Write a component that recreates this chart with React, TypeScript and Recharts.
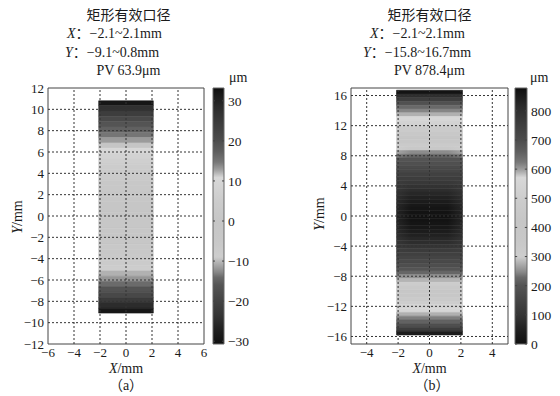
import React from "react";
import { ComposedChart, XAxis, YAxis, ReferenceArea, ReferenceLine } from "recharts";

const SERIF = '"Liberation Serif", "Times New Roman", "Noto Sans CJK SC", serif';

// grey colour map (fraction of the range -> grey level)
const cmapPos = [0, 0.05, 0.11, 0.17, 0.23, 0.26, 0.28, 0.31, 0.34, 0.4, 0.48, 0.56, 0.62, 0.65, 0.68, 0.71, 0.75, 0.8, 0.87, 0.93, 1];
const cmapGray = [16, 30, 52, 68, 85, 105, 135, 170, 205, 200, 198, 204, 212, 216, 160, 120, 95, 75, 58, 42, 14];

// (a)
const aXTicks = [-6, -4, -2, 0, 2, 4, 6];
const aYTicks = [-12, -10, -8, -6, -4, -2, 0, 2, 4, 6, 8, 10, 12];
const aBarTicks = [-30, -20, -10, 0, 10, 20, 30];
const aRange = [-30.7, 33.2];
const aApX = [-2.1, 2.1];
const aApY = [-9.1, 10.8];
const aRowY = [10.6, 10.1, 9.6, 9.1, 8.6, 8.1, 7.6, 7.1, 6.6, 6.1, 5.6, 5.1, 4.6, 4.1, 3.6, 3.1, 2.6, 2.1, 1.6, 1.1,
  0.6, 0.1, -0.4, -0.9, -1.4, -1.9, -2.4, -2.9, -3.4, -3.9, -4.4, -4.9, -5.4, -5.9, -6.4, -6.9, -7.4, -7.9, -8.4, -8.9];
const aRowVal = [32, 27, 24, 21, 19, 17, 15, 13, 11.5, 10.3, 8, 6.5, 5, 4, 3, 2, 1.5, 1, 0.5, 0,
  -0.5, -1, -1.5, -2, -2.5, -3, -3.5, -4, -5, -6, -7.5, -9, -10.5, -12, -14, -16.5, -19, -22, -25, -29];

// (b)
const bXTicks = [-4, -2, 0, 2, 4];
const bYTicks = [-16, -12, -8, -4, 0, 4, 8, 12, 16];
const bBarTicks = [0, 100, 200, 300, 400, 500, 600, 700, 800];
const bRange = [0, 878.4];
const bApX = [-2.1, 2.1];
const bApY = [-15.8, 16.7];
const bRowY = [16.45, 15.95, 15.45, 14.95, 14.45, 13.95, 13.45, 12.95, 12.45, 11.95, 11.45, 10.95, 10.45, 9.95, 9.45,
  8.95, 8.45, 7.95, 7.45, 6.95, 6.45, 5.95, 5.45, 4.95, 4.45, 3.95, 3.45, 2.95, 2.45, 1.95, 1.45, 0.95, 0.45,
  -0.05, -0.55, -1.05, -1.55, -2.05, -2.55, -3.05, -3.55, -4.05, -4.55, -5.05, -5.55, -6.05, -6.55, -7.05, -7.55,
  -8.05, -8.55, -9.05, -9.55, -10.05, -10.55, -11.05, -11.55, -12.05, -12.55, -13.05, -13.55, -14.05, -14.55, -15.05, -15.55];
const bRowCenter = [865, 805, 750, 690, 645, 615, 590, 562, 535, 505, 475, 445, 415, 380, 330,
  295, 250, 222, 200, 185, 170, 155, 140, 125, 110, 95, 80, 65, 50, 38, 25, 15, 8,
  5, 8, 15, 25, 38, 50, 65, 80, 100, 120, 135, 150, 165, 180, 200, 225,
  255, 280, 305, 340, 390, 430, 470, 500, 530, 555, 590, 620, 655, 695, 755, 850];
const bRowEdge = [865, 805, 750, 690, 645, 615, 590, 562, 535, 505, 475, 445, 415, 380, 330,
  305, 268, 236, 200, 185, 170, 155, 140, 125, 122, 112, 102, 92, 82, 74, 67, 62, 59,
  58, 59, 62, 67, 74, 82, 92, 102, 115, 128, 135, 150, 165, 180, 200, 225,
  255, 280, 305, 340, 390, 430, 470, 500, 530, 555, 590, 620, 655, 695, 755, 850];

const grey = (g: number) => `rgb(${g},${g},${g})`;

function colorOf(v: number, range: number[]) {
  const t = Math.max(0, Math.min(1, (v - range[0]) / (range[1] - range[0])));
  let i = 1;
  while (i < cmapPos.length - 1 && cmapPos[i] < t) i++;
  const f = (t - cmapPos[i - 1]) / (cmapPos[i] - cmapPos[i - 1]);
  return grey(Math.round(cmapGray[i - 1] + f * (cmapGray[i] - cmapGray[i - 1])));
}

const fmt = (v: number) => String(v).replace("-", "\u2212");
const tick = { fill: "#1a1a1a", fontSize: 13, fontFamily: SERIF };

function HeatPanel(p: any) {
  const rows = p.rowY.map((c: number, i: number) => ({
    top: Math.min(c + 0.25, p.apY[1]),
    bottom: Math.max(c - 0.25, p.apY[0]),
    center: colorOf(p.rowC[i], p.range),
    edge: colorOf(p.rowE ? p.rowE[i] : p.rowC[i], p.range),
  }));
  const chartLeft = p.plotLeft - 48;
  const chartW = p.plotRight - chartLeft + 10;
  const innerX = p.xTicks.filter((t: number) => t > p.xDomain[0] && t < p.xDomain[1]);
  const innerY = p.yTicks.filter((t: number) => t > p.yDomain[0] && t < p.yDomain[1]);
  return (
    <div style={{ position: "absolute", left: chartLeft, top: 0 }}>
      <ComposedChart width={chartW} height={396} margin={{ top: 88, right: 10, bottom: 22, left: 8 }}>
        <defs>
          {rows.map((r: any, i: number) =>
            r.edge !== r.center ? (
              <linearGradient key={i} id={`${p.id}-row${i}`} x1="0" y1="0" x2="1" y2="0">
                <stop offset="0" stopColor={r.edge} />
                <stop offset="0.22" stopColor={r.center} />
                <stop offset="0.78" stopColor={r.center} />
                <stop offset="1" stopColor={r.edge} />
              </linearGradient>
            ) : null
          )}
        </defs>
        <XAxis type="number" dataKey="x" domain={p.xDomain} ticks={p.xTicks} interval={0} allowDataOverflow
          axisLine={false} tickLine={false} tickSize={2} tickMargin={2} height={30} tick={tick} tickFormatter={fmt} />
        <YAxis type="number" dataKey="y" domain={p.yDomain} ticks={p.yTicks} interval={0} allowDataOverflow
          axisLine={false} tickLine={false} tickSize={2} tickMargin={2} width={40} tick={tick} tickFormatter={fmt} />
        {rows.map((r: any, i: number) => {
          const fill = r.edge !== r.center ? `url(#${p.id}-row${i})` : r.center;
          return (
            <ReferenceArea key={`r${i}`} x1={p.apX[0]} x2={p.apX[1]} y1={r.bottom} y2={r.top}
              fill={fill} fillOpacity={1} stroke={fill} strokeWidth={0.6} />
          );
        })}
        {innerX.map((t: number) => (
          <ReferenceLine key={`gx${t}`} x={t} stroke="#333" strokeDasharray="2 2" />
        ))}
        {innerY.map((t: number) => (
          <ReferenceLine key={`gy${t}`} y={t} stroke="#333" strokeDasharray="2 2" />
        ))}
        <ReferenceArea x1={p.xDomain[0]} x2={p.xDomain[1]} y1={p.yDomain[0]} y2={p.yDomain[1]}
          fill="none" stroke="#444" strokeWidth={1} />
      </ComposedChart>
    </div>
  );
}

function ColorBar(p: any) {
  const chartLeft = p.plotLeft - 8;
  return (
    <div style={{ position: "absolute", left: chartLeft, top: 0 }}>
      <ComposedChart width={8 + p.plotW + 34} height={396} margin={{ top: 88, right: 0, bottom: 52, left: 8 }}>
        <defs>
          <linearGradient id={p.id} x1="0" y1="1" x2="0" y2="0">
            {cmapPos.map((t, i) => (
              <stop key={i} offset={t} stopColor={grey(cmapGray[i])} />
            ))}
          </linearGradient>
        </defs>
        <XAxis type="number" dataKey="x" domain={[0, 1]} hide allowDataOverflow />
        <YAxis type="number" dataKey="v" orientation="right" domain={p.range} ticks={p.ticks} interval={0}
          allowDataOverflow axisLine={false} tickLine={false} tickSize={2} tickMargin={2} width={34}
          tick={{ ...tick, fontSize: 13.5 }} tickFormatter={fmt} />
        <ReferenceArea x1={0} x2={1} y1={p.range[0]} y2={p.range[1]} fill={`url(#${p.id})`} fillOpacity={1}
          stroke="#666" strokeWidth={1} />
        {p.ticks.map((t: number) => (
          <ReferenceLine key={`l${t}`} segment={[{ x: 0, y: t }, { x: 0.18, y: t }]} stroke="#444" />
        ))}
        {p.ticks.map((t: number) => (
          <ReferenceLine key={`r${t}`} segment={[{ x: 0.82, y: t }, { x: 1, y: t }]} stroke="#444" />
        ))}
      </ComposedChart>
    </div>
  );
}

function Labels() {
  const txt = { fontFamily: SERIF, fontSize: 14, fill: "#1a1a1a" };
  const panels = [
    { cx: 128.5, xl: 67, yl: 65, xr: "\u22122.1~2.1mm", yr: "\u22129.1~0.8mm", pv: "PV 63.9\u03bcm", um: 229,
      axc: 126, ylx: 21.5, yly: 217, cap: "（a）", capx: 126 },
    { cx: 429.5, xl: 370, yl: 363, xr: "\u22122.1~2.1mm", yr: "\u221215.8~16.7mm", pv: "PV 878.4\u03bcm", um: 530,
      axc: 429.5, ylx: 324, yly: 214, cap: "（b）", capx: 432 },
  ];
  return (
    <svg width={560} height={396} style={{ position: "absolute", left: 0, top: 0, pointerEvents: "none" }}>
      {panels.map((p, i) => (
        <g key={i} {...txt}>
          <text x={p.cx} y={20} textAnchor="middle">矩形有效口径</text>
          <text x={p.xl} y={38}><tspan fontStyle="italic">X</tspan>：{p.xr}</text>
          <text x={p.yl} y={57}><tspan fontStyle="italic">Y</tspan>：{p.yr}</text>
          <text x={p.cx} y={75} textAnchor="middle">{p.pv}</text>
          <text x={p.um} y={82}>{"\u03bcm"}</text>
          <text x={p.axc} y={373} textAnchor="middle"><tspan fontStyle="italic">X</tspan>/mm</text>
          <text x={p.ylx} y={p.yly} textAnchor="middle" transform={`rotate(-90 ${p.ylx} ${p.yly})`}>
            <tspan fontStyle="italic">Y</tspan>/mm
          </text>
          <text x={p.capx} y={390} textAnchor="middle">{p.cap}</text>
        </g>
      ))}
    </svg>
  );
}

export default function App() {
  return (
    <div style={{ position: "absolute", left: 0, top: 0, width: 560, height: 396, background: "#fff", overflow: "hidden" }}>
      <HeatPanel id="pa" plotLeft={48} plotRight={204} xDomain={[-6, 6]} yDomain={[-12, 12]} xTicks={aXTicks}
        yTicks={aYTicks} apX={aApX} apY={aApY} rowY={aRowY} rowC={aRowVal} range={aRange} />
      <ColorBar id="cba" plotLeft={213} plotW={11} range={aRange} ticks={aBarTicks} />
      <HeatPanel id="pb" plotLeft={351} plotRight={508} xDomain={[-5, 5]} yDomain={[-17, 17]} xTicks={bXTicks}
        yTicks={bYTicks} apX={bApX} apY={bApY} rowY={bRowY} rowC={bRowCenter} rowE={bRowEdge} range={bRange} />
      <ColorBar id="cbb" plotLeft={515} plotW={12} range={bRange} ticks={bBarTicks} />
      <Labels />
    </div>
  );
}
